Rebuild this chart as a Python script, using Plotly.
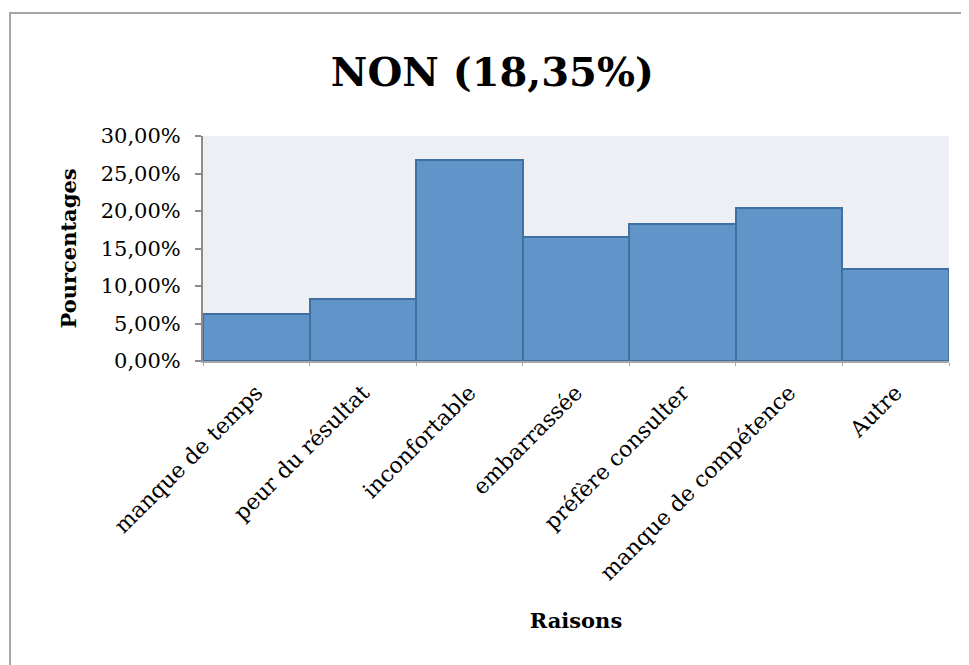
import plotly.graph_objects as go

categories = ["manque de temps", "peur du résultat", "inconfortable", "embarrassée",
              "préfère consulter", "manque de compétence", "Autre"]
values = [0.0625, 0.0833, 0.2675, 0.1650, 0.1825, 0.2040, 0.1225]
title_text = "NON (18,35%)"
y_title = "Pourcentages"
x_title = "Raisons"

SERIF = "DejaVu Serif"

fig = go.Figure(go.Bar(
    x=categories, y=values,
    marker=dict(color="#6195C9", line=dict(color="#40709F", width=2)),
))

fig.update_layout(
    width=961, height=657,
    margin=dict(l=195, r=20, t=128, b=304),
    paper_bgcolor="white", plot_bgcolor="#ECEFF4",
    bargap=0, separators=", ",
    showlegend=False,
    title=dict(text="<b>" + title_text + "</b>", x=0.504, xref="container", xanchor="center",
               y=0.902, yref="container", yanchor="middle",
               font=dict(family=SERIF, size=40, color="black")),
    font=dict(family=SERIF, color="black"),
    shapes=[dict(type="rect", xref="paper", yref="paper",
                 x0=-0.2587, x1=1.2, y0=-1.8, y1=1.547,
                 line=dict(color="#A6A6A6", width=2), fillcolor="rgba(0,0,0,0)", layer="below")],
)

fig.update_yaxes(
    range=[0, 0.30], dtick=0.05, tickformat=".2%",
    showgrid=False, zeroline=False,
    showline=True, linecolor="#8C8C8C", linewidth=2,
    ticks="outside", ticklen=6, tickcolor="#8C8C8C", tickwidth=2,
    ticklabelstandoff=10,
    tickfont=dict(family=SERIF, size=21),
    title=dict(text="<b>" + y_title + "</b>", font=dict(family=SERIF, size=21), standoff=18),
)
fig.update_xaxes(
    showgrid=False, showline=True, linecolor="#A6A6A6", linewidth=2,
    ticks="outside", tickson="boundaries", ticklen=3, tickcolor="#A6A6A6",
    tickangle=-45, ticklabelstandoff=8,
    tickfont=dict(family=SERIF, size=22),
    title=dict(text="<b>" + x_title + "</b>", font=dict(family=SERIF, size=21), standoff=29),
)

fig.write_html("out.html")
